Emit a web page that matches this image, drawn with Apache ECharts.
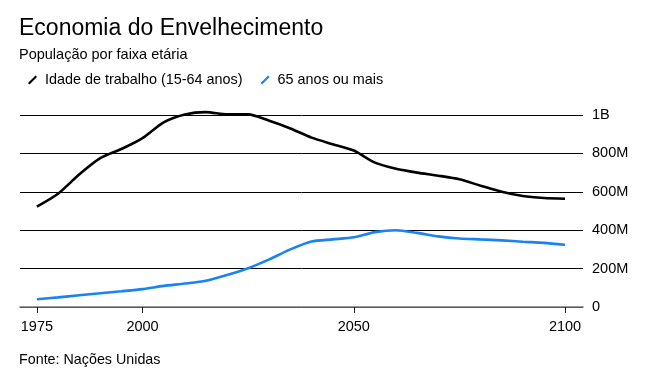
<!DOCTYPE html>
<html>
<head>
<meta charset="utf-8">
<script src="https://cdn.jsdelivr.net/npm/echarts@6/dist/echarts.min.js"></script>
<style>
html,body{margin:0;padding:0;background:#fff;}
#c{width:650px;height:384px;}
</style>
</head>
<body>
<div id="c"></div>
<script>
const years = [1975,1980,1985,1990,1995,2000,2005,2010,2015,2020,2025,2030,2035,2040,2045,2050,2055,2060,2065,2070,2075,2080,2085,2090,2095,2100];
const workingAge = [523,590,690,775,823,880,962,1003,1015,1003,1003,970,930,882,848,815,752,720,700,684,665,632,600,578,568,564];
const over65 = [40,50,61,72,82,93,110,122,137,167,202,248,300,341,352,363,390,400,386,368,357,352,347,340,334,324];
const xTicks = [1975,2000,2050,2100];
const yTicks = [0,200,400,600,800,1000];
const seriesNames = ['Idade de trabalho (15-64 anos)','65 anos ou mais'];

const FONT = 'Liberation Sans, Arial, sans-serif';
const icon = 'path://M0,8 L1.6,9.6 L9.6,1.6 L8,0 Z';
const chart = echarts.init(document.getElementById('c'));
chart.setOption({
  animation:false,
  title:[
    {text:'Economia do Envelhecimento', left:14, top:12, textStyle:{fontFamily:FONT,fontSize:23,fontWeight:'normal',color:'#000'}},
    {text:'População por faixa etária', left:14, top:42, textStyle:{fontFamily:FONT,fontSize:14.5,fontWeight:'normal',color:'#000'}},
    {text:'Fonte: Nações Unidas', left:14, top:348, textStyle:{fontFamily:FONT,fontSize:14.3,fontWeight:'normal',color:'#000'}}
  ],
  legend:{
    left:23, top:68, itemWidth:9, itemHeight:9, itemGap:18,
    icon:icon,
    data:seriesNames,
    textStyle:{fontFamily:FONT,fontSize:14.4,color:'#000',padding:[0,0,0,3]}
  },
  grid:{left:20,right:67,top:115,bottom:77,containLabel:false},
  xAxis:{
    type:'value', min:1971, max:2104.25,
    axisLine:{show:true,lineStyle:{color:'#777',width:1.5}},
    axisTick:{show:true,customValues:xTicks,length:6,lineStyle:{color:'#222',width:1}},
    axisLabel:{customValues:xTicks,fontFamily:FONT,fontSize:14.5,color:'#000',margin:12,formatter:v=>String(v)},
    splitLine:{show:false}
  },
  yAxis:{
    type:'value', position:'right', min:0, max:1000, interval:200,
    axisLine:{show:false}, axisTick:{show:false},
    axisLabel:{fontFamily:FONT,fontSize:14.5,color:'#000',margin:9,
      formatter:v=> v===0?'0':(v>=1000?(v/1000)+'B':v+'M')},
    splitLine:{show:true,lineStyle:{color:'#000',width:1}}
  },
  series:[
    {name:seriesNames[0],type:'line',data:years.map((y,i)=>[y,workingAge[i]]),showSymbol:false,smooth:0.25,clip:false,
     lineStyle:{color:'#000',width:2.6},itemStyle:{color:'#000'}},
    {name:seriesNames[1],type:'line',data:years.map((y,i)=>[y,over65[i]]),showSymbol:false,smooth:0.25,clip:false,
     lineStyle:{color:'#1a82f7',width:2.6},itemStyle:{color:'#1a82f7'}}
  ]
});
</script>
</body>
</html>
